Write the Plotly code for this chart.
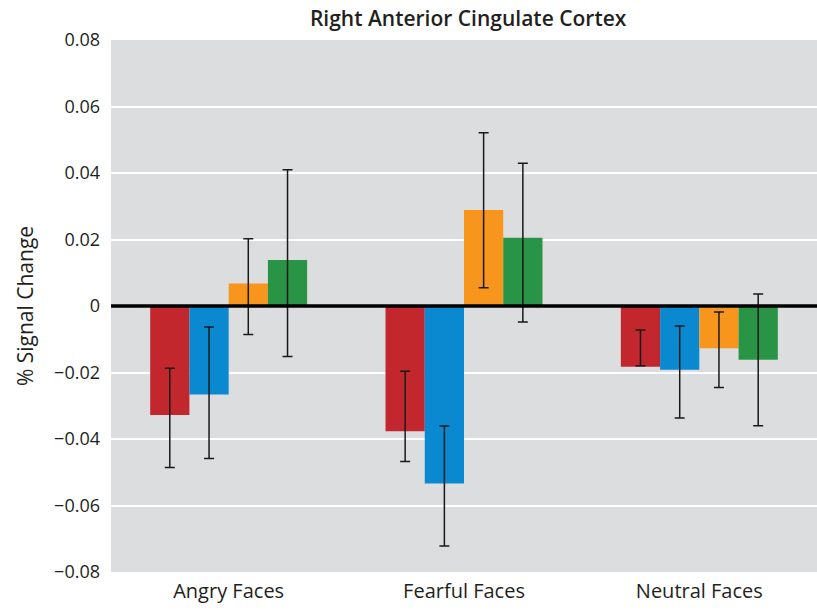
import plotly.graph_objects as go

categories = ["Angry Faces", "Fearful Faces", "Neutral Faces"]
series_names = ["Group A", "Group B", "Group C", "Group D"]
colors = ["#c1272d", "#0a89d0", "#f8951d", "#299446"]

# bar values per series (Angry, Fearful, Neutral)
values = [
    [-0.0328, -0.0377, -0.0183],
    [-0.0266, -0.0534, -0.0192],
    [0.0068, 0.0289, -0.0127],
    [0.0138, 0.0205, -0.0162],
]
# error bar upper and lower ends
err_top = [
    [-0.0187, -0.0196, -0.0072],
    [-0.0063, -0.0361, -0.0060],
    [0.0202, 0.0521, -0.0018],
    [0.0410, 0.0429, 0.0036],
]
err_bottom = [
    [-0.0486, -0.0468, -0.0180],
    [-0.0459, -0.0722, -0.0337],
    [-0.0086, 0.0055, -0.0245],
    [-0.0152, -0.0048, -0.0360],
]

FONT = "Open Sans"
TXT = "#231f20"

fig = go.Figure()
for name, col, v, t, b in zip(series_names, colors, values, err_top, err_bottom):
    fig.add_trace(go.Bar(
        x=categories, y=v, name=name,
        marker=dict(color=col, line=dict(width=0)),
        error_y=dict(
            type="data", symmetric=False,
            array=[ti - vi for ti, vi in zip(t, v)],
            arrayminus=[vi - bi for vi, bi in zip(v, b)],
            color="#1a1a1a", thickness=1.5, width=5,
        ),
    ))

fig.add_shape(type="line", xref="paper", yref="y", x0=0, x1=1, y0=0, y1=0,
              line=dict(color="black", width=3.5), layer="above")

fig.update_layout(
    width=817, height=610,
    margin=dict(l=111, r=0, t=40, b=38),
    paper_bgcolor="white",
    plot_bgcolor="#dcdddf",
    barmode="group", bargap=0.333, bargroupgap=0,
    showlegend=False,
    font=dict(family=FONT, color=TXT),
    title=dict(text="Right Anterior Cingulate Cortex", x=0.573, xanchor="center",
               y=1 - 19 / 610, yanchor="middle", yref="container",
               font=dict(size=21, family=FONT, color=TXT, weight=600)),
    xaxis=dict(showgrid=False, zeroline=False, showline=False,
               tickfont=dict(size=20, family=FONT, color=TXT),
               ticks="", ticklabelstandoff=5),
    yaxis=dict(range=[-0.08, 0.08], dtick=0.02, tick0=0,
               showgrid=True, gridcolor="white", gridwidth=2,
               zeroline=False, showline=False, ticks="",
               ticklabelstandoff=10,
               tickfont=dict(size=18, family=FONT, color=TXT),
               title=dict(text="% Signal Change", standoff=14,
                          font=dict(size=21, family=FONT, color=TXT))),
)

fig.write_html("out.html")
